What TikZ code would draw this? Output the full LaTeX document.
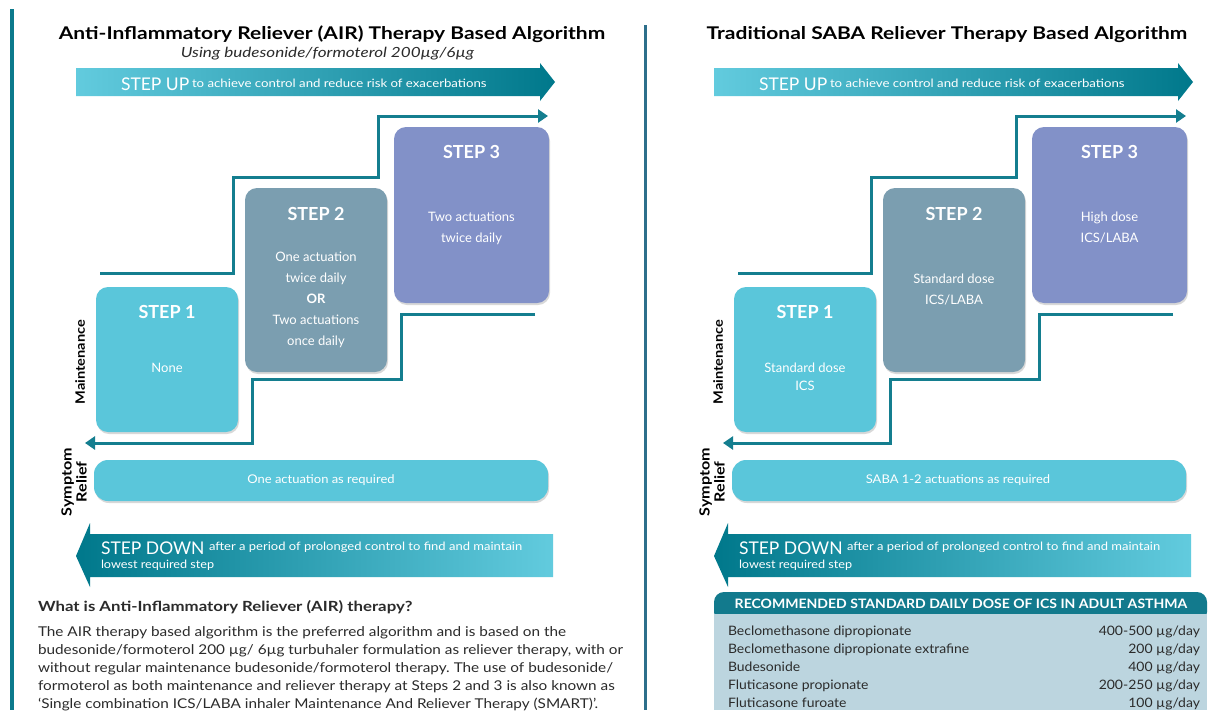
\documentclass[tikz,border=0pt]{standalone}
\usepackage{graphicx}
\usepackage{fontspec}
\setmainfont{Lato}
\frenchspacing
\usetikzlibrary{shadows,arrows.meta}
\definecolor{cyanbox}{HTML}{5AC6DA}
\definecolor{slatebox}{HTML}{7B9EB0}
\definecolor{perbox}{HTML}{8291C8}
\definecolor{lineteal}{HTML}{147E8F}
\definecolor{arrlight}{HTML}{62CBDE}
\definecolor{arrmid}{HTML}{00A4B9}
\definecolor{arrdark}{HTML}{00788B}
\definecolor{divblue}{HTML}{2D6F8B}
\definecolor{leftbar}{HTML}{0C7A8C}
\definecolor{tabhead}{HTML}{127A8D}
\definecolor{tabbody}{HTML}{BCD5DF}
\definecolor{txtgray}{HTML}{2B2B2B}
\newcommand{\fs}[2]{\fontsize{#1}{#2}\selectfont}
\newcommand{\sx}[2]{\scalebox{#1}[1]{#2}}
\tikzset{
  every node/.style={inner sep=0pt, outer sep=0pt},
  stepbox/.style={rounded corners=12pt, drop shadow={shadow xshift=1pt, shadow yshift=-2pt, opacity=0.3}},
  reliefbar/.style={rounded corners=14pt, fill=cyanbox, drop shadow={shadow xshift=1pt, shadow yshift=-2pt, opacity=0.3}},
  steptitle/.style={anchor=base, text=white, font=\fs{18}{20}\bfseries},
  stepbody/.style={anchor=north, text=white, align=center, font=\fs{13}{21}},
  stair/.style={draw=lineteal, line width=3pt},
  stairarrow/.style={stair, -{Triangle[length=10pt,width=13pt]}},
  bigtxt/.style={anchor=base west, text=white, font=\fs{17.5}{20}},
  smalltxt/.style={anchor=base west, text=white, font=\fs{11.5}{16}},
  sidelabel/.style={rotate=90, font=\fs{13}{15}\bfseries},
  relieftxt/.style={anchor=base, text=white, font=\fs{12}{14}},
  titletxt/.style={anchor=base, font=\fs{17.5}{20}\bfseries},
  subtxt/.style={anchor=base, font=\fs{14}{16}\itshape, text=txtgray},
  rowtxt/.style={font=\fs{13}{16}, text=txtgray},
}
\newcommand{\panelshapes}{%
  \shade[left color=arrlight, middle color=arrmid, right color=arrdark]
    (76,68) -- (540,68) -- (540,63) -- (555,82) -- (540,101) -- (540,96) -- (76,96) -- cycle;
  \node[stepbox, fill=cyanbox, minimum width=142pt, minimum height=145pt] (s1) at (167,359.5) {};
  \node[stepbox, fill=slatebox, minimum width=142pt, minimum height=184pt] (s2) at (316,280) {};
  \node[stepbox, fill=perbox, minimum width=155pt, minimum height=176pt] (s3) at (471.5,215) {};
  \coordinate (ua) at (100,273);
  \coordinate (ub) at (548,116);
  \draw[stairarrow] (ua) -| (233,177) -| (378,116) -- (ub);
  \coordinate (la) at (535,314);
  \coordinate (lb) at (85,443);
  \draw[stairarrow] (la) -| (401,379) -| (252,443) -- (lb);
  \node[reliefbar, minimum width=454pt, minimum height=41pt] (sr) at (321,480.5) {};
  \shade[left color=arrdark, middle color=arrmid, right color=arrlight]
    (553,534) -- (90,534) -- (90,523) -- (76,556) -- (90,587) -- (90,577) -- (553,577) -- cycle;
  \node[sidelabel] (mlab) at (80,362) {\sx{1.12}{Maintenance}};
  \node[sidelabel, font=\fs{14}{15}\bfseries] (slab) at (76,482) {\sx{1.15}{\begin{tabular}{@{}c@{}}Symptom\\Relief\end{tabular}}};
  \node[bigtxt] (upbig) at (121,90) {STEP UP};
  \node[smalltxt] (upsmall) at (192,87) {\sx{1.15}{to achieve control and reduce risk of exacerbations}};
  \node[bigtxt] (downbig) at (101,554) {STEP DOWN};
  \node[smalltxt] (downsmall) at (209,550) {\sx{1.13}{after a period of prolonged control to find and maintain}};
  \node[smalltxt] (downsmall2) at (101,568) {\sx{1.1}{lowest required step}};
  \node[steptitle] (t1) at (167,318.5) {STEP 1};
  \node[steptitle] (t2) at (316,220.5) {STEP 2};
  \node[steptitle] (t3) at (471.5,158.5) {STEP 3};
}
\begin{document}
\begin{tikzpicture}[x=1pt,y=-1pt]
\clip (0,0) rectangle (1209,710);
\fill[white] (0,0) rectangle (1209,710);
\coordinate (lbtop) at (12,9);
\coordinate (lbbot) at (12,710);
\draw[line width=4pt, draw=leftbar] (lbtop) -- (lbbot);
\coordinate (dvtop) at (645,25);
\coordinate (dvbot) at (645,710);
\draw[line width=3pt, draw=divblue] (dvtop) -- (dvbot);

\begin{scope}[name prefix=L-]
  \panelshapes
  \node[titletxt] (title) at (332,39) {\sx{1.2}{Anti-Inflammatory Reliever (AIR) Therapy Based Algorithm}};
  \node[subtxt] (sub) at (327.5,57) {\sx{1.22}{Using budesonide/formoterol 200µg/6µg}};
  \node[stepbody] (b1) at (167,363.5) {None};
  \node[stepbody] (b2) at (316,252.3) {One actuation\\twice daily\\\textbf{OR}\\Two actuations\\once daily};
  \node[stepbody] (b3) at (471.5,212.3) {Two actuations\\twice daily};
  \node[relieftxt] (rt) at (321,483) {\sx{1.08}{One actuation as required}};
  \node[anchor=base west, font=\fs{14}{18}\bfseries, text=txtgray] (qhead) at (38,611) {\sx{1.2}{What is Anti-Inflammatory Reliever (AIR) therapy?}};
  \node[anchor=north west, font=\fs{13.5}{18}, text=txtgray] (para) at (38,624) {\sx{1.135}{\begin{tabular}{@{}l@{}}The AIR therapy based algorithm is the preferred algorithm and is based on the\\budesonide/formoterol 200 µg/ 6µg turbuhaler formulation as reliever therapy, with or\\without regular maintenance budesonide/formoterol therapy. The use of budesonide/\\formoterol as both maintenance and reliever therapy at Steps 2 and 3 is also known as\\‘Single combination ICS/LABA inhaler Maintenance And Reliever Therapy (SMART)’.\end{tabular}}};
\end{scope}

\begin{scope}[xshift=638pt, name prefix=R-]
  \panelshapes
  \node[titletxt] (title) at (309,39) {\sx{1.2}{Traditional SABA Reliever Therapy Based Algorithm}};
  \node[stepbody, font=\fs{13}{18}] (b1) at (167,363.3) {Standard dose\\ICS};
  \node[stepbody] (b2) at (316,274.3) {Standard dose\\ICS/LABA};
  \node[stepbody] (b3) at (471.5,212.3) {High dose\\ICS/LABA};
  \node[relieftxt] (rt) at (320,483) {\sx{1.08}{SABA 1-2 actuations as required}};
\end{scope}

\fill[tabhead, rounded corners=10pt] (714,592) rectangle (1207,622);
\fill[tabbody] (714,614) rectangle (1207,710);
\node[anchor=base, font=\fs{13}{16}\bfseries, text=white] (thead) at (961,608) {\sx{1.08}{RECOMMENDED STANDARD DAILY DOSE OF ICS IN ADULT ASTHMA}};
\node[rowtxt, anchor=base west] (r1l) at (728,635) {\sx{1.075}{Beclomethasone dipropionate}};
\node[rowtxt, anchor=base east] (r1r) at (1200,635) {\sx{1.075}{400-500 µg/day}};
\node[rowtxt, anchor=base west] (r2l) at (728,653) {\sx{1.075}{Beclomethasone dipropionate extrafine}};
\node[rowtxt, anchor=base east] (r2r) at (1200,653) {\sx{1.075}{200 µg/day}};
\node[rowtxt, anchor=base west] (r3l) at (728,671) {\sx{1.075}{Budesonide}};
\node[rowtxt, anchor=base east] (r3r) at (1200,671) {\sx{1.075}{400 µg/day}};
\node[rowtxt, anchor=base west] (r4l) at (728,689) {\sx{1.075}{Fluticasone propionate}};
\node[rowtxt, anchor=base east] (r4r) at (1200,689) {\sx{1.075}{200-250 µg/day}};
\node[rowtxt, anchor=base west] (r5l) at (728,707) {\sx{1.075}{Fluticasone furoate}};
\node[rowtxt, anchor=base east] (r5r) at (1200,707) {\sx{1.075}{100 µg/day}};
\end{tikzpicture}
\end{document}
